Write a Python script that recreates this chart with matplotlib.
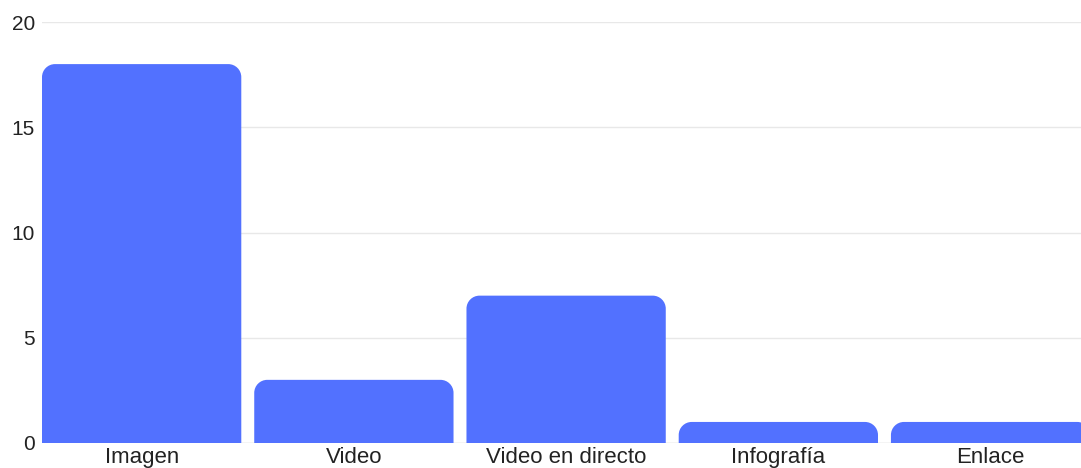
import matplotlib.pyplot as plt
from matplotlib.path import Path
from matplotlib.patches import PathPatch

plt.rcParams['font.family'] = ['Liberation Sans', 'DejaVu Sans']

categories = ['Imagen', 'Video', 'Video en directo', 'Infografía', 'Enlace']
counts = [18, 3, 7, 1, 1]
y_ticks = [0, 5, 10, 15, 20]

bar_color = '#5271ff'
bar_width = 0.939


def rounded_top_bar(x, height, width, rx, ry):
    # bar outline with the two top corners rounded (bezier quarter circles)
    k = 0.5523
    left, right = x - width / 2, x + width / 2
    ry = min(ry, height)
    verts = [
        (left, 0), (right, 0), (right, height - ry),
        (right, height - ry + k * ry), (right - rx + k * rx, height), (right - rx, height),
        (left + rx, height),
        (left + rx - k * rx, height), (left, height - ry + k * ry), (left, height - ry),
        (left, 0),
    ]
    codes = [Path.MOVETO, Path.LINETO, Path.LINETO,
             Path.CURVE4, Path.CURVE4, Path.CURVE4,
             Path.LINETO,
             Path.CURVE4, Path.CURVE4, Path.CURVE4,
             Path.CLOSEPOLY]
    return Path(verts, codes)


fig = plt.figure(figsize=(10.81, 4.68), dpi=100)
ax = fig.add_axes([42 / 1081, 25 / 468, (1081 - 42) / 1081, 421 / 468])

ax.set_xlim(-bar_width / 2, 4.426)
ax.set_ylim(0, 20)

# corner radius of about 13 px, converted to data units on each axis
rx = 13 / 212.25
ry = 13 / 21.05
for i, v in enumerate(counts):
    ax.add_patch(PathPatch(rounded_top_bar(i, v, bar_width, rx, ry),
                           facecolor=bar_color, edgecolor='none', zorder=3))

ax.set_yticks(y_ticks)
ax.set_xticks(range(len(categories)))
ax.set_xticklabels(categories)
ax.grid(axis='y', color='#e8e8e8', linewidth=1, zorder=0)
ax.tick_params(axis='both', length=0, colors='#222222')
ax.tick_params(axis='y', pad=5, labelsize=15)
ax.tick_params(axis='x', pad=3, labelsize=16)
for s in ax.spines.values():
    s.set_visible(False)
ax.axhline(0, color='#d9d9d9', linewidth=1, zorder=1)

fig.savefig('out.png', dpi=100)
